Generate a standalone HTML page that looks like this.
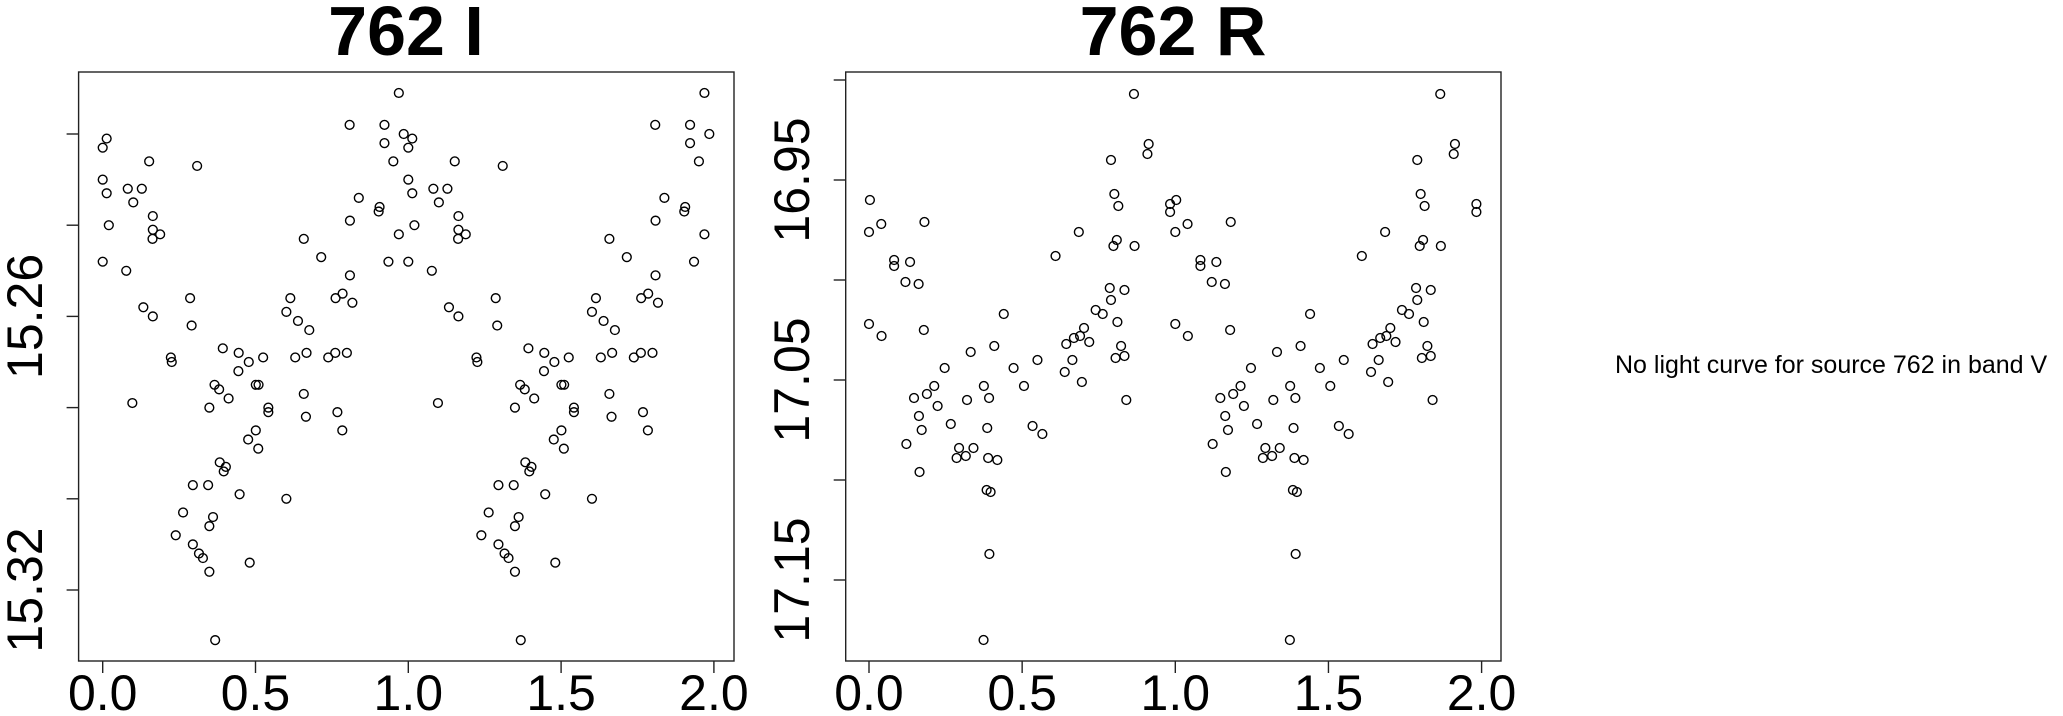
<!DOCTYPE html>
<html><head><meta charset="utf-8"><style>
html,body{margin:0;padding:0;background:#fff;width:2063px;height:716px;overflow:hidden}
svg{display:block;font-family:"Liberation Sans",Arial,sans-serif}
</style></head><body>
<svg id="chart" width="2063" height="716" viewBox="0 0 2063 716" xmlns="http://www.w3.org/2000/svg">
<text x="406" y="55" font-size="70" font-weight="bold" text-anchor="middle">762 I</text>
<text x="1173" y="55" font-size="70" font-weight="bold" text-anchor="middle">762 R</text>
<rect x="78.6" y="72" width="655.4" height="589" fill="none" stroke="#222" stroke-width="1.4"/>
<rect x="845.7" y="72" width="655.3" height="589" fill="none" stroke="#222" stroke-width="1.4"/>
<text x="1615" y="373" font-size="25">No light curve for source 762 in band V</text>
<g id="gI"></g>
<g id="gR"></g>
</svg>
<script>
const iPhase=[0.969,0.808,0.922,0.985,0.013,0.922,0.000,0.152,0.309,0.951,0.000,0.013,0.082,0.128,0.100,0.838,0.906,0.903,0.164,0.020,0.809,0.164,0.188,0.163,0.969,0.658,0.000,0.935,0.077,0.715,0.809,0.286,0.614,0.785,0.762,0.817,0.133,0.164,0.291,0.601,0.639,0.676,0.393,0.445,0.478,0.525,0.630,0.667,0.738,0.761,0.799,0.223,0.226,0.444,0.366,0.381,0.412,0.501,0.510,0.097,0.349,0.542,0.542,0.658,0.665,0.768,0.784,0.501,0.476,0.509,0.383,0.403,0.396,0.295,0.345,0.448,0.601,0.263,0.361,0.349,0.239,0.295,0.315,0.328,0.481,0.349,0.368];
const iMag=[15.211,15.218,15.218,15.220,15.221,15.222,15.223,15.226,15.227,15.226,15.230,15.233,15.232,15.232,15.235,15.234,15.236,15.237,15.238,15.240,15.239,15.241,15.242,15.243,15.242,15.243,15.248,15.248,15.250,15.247,15.251,15.256,15.256,15.255,15.256,15.257,15.258,15.260,15.262,15.259,15.261,15.263,15.267,15.268,15.270,15.269,15.269,15.268,15.269,15.268,15.268,15.269,15.270,15.272,15.275,15.276,15.278,15.275,15.275,15.279,15.280,15.280,15.281,15.277,15.282,15.281,15.285,15.285,15.287,15.289,15.292,15.293,15.294,15.297,15.297,15.299,15.300,15.303,15.304,15.306,15.308,15.310,15.312,15.313,15.314,15.316,15.331];
const rPhase=[0.865,0.913,0.909,0.790,0.003,0.801,0.814,0.983,0.983,0.040,0.000,0.181,0.685,0.809,0.798,0.867,0.609,0.082,0.082,0.134,0.119,0.162,0.786,0.834,0.790,0.740,0.763,0.440,0.811,0.000,0.041,0.179,0.702,0.689,0.669,0.644,0.719,0.823,0.805,0.834,0.409,0.332,0.550,0.664,0.247,0.472,0.639,0.695,0.213,0.375,0.506,0.189,0.147,0.320,0.392,0.840,0.224,0.163,0.267,0.386,0.534,0.566,0.172,0.122,0.294,0.341,0.286,0.316,0.389,0.419,0.165,0.384,0.397,0.393,0.374];
const rMag=[16.907,16.932,16.937,16.940,16.960,16.957,16.963,16.962,16.966,16.972,16.976,16.971,16.976,16.980,16.983,16.983,16.988,16.990,16.993,16.991,17.001,17.002,17.004,17.005,17.010,17.015,17.017,17.017,17.021,17.022,17.028,17.025,17.024,17.028,17.029,17.032,17.031,17.033,17.039,17.038,17.033,17.036,17.040,17.040,17.044,17.044,17.046,17.051,17.053,17.053,17.053,17.057,17.059,17.060,17.059,17.060,17.063,17.068,17.072,17.074,17.073,17.077,17.075,17.082,17.084,17.084,17.089,17.088,17.089,17.090,17.096,17.105,17.106,17.137,17.180];
const xTicks=[0,0.5,1,1.5,2];
const xTickLabels=["0.0","0.5","1.0","1.5","2.0"];
const iYTicks=[15.22,15.24,15.26,15.28,15.30,15.32];
const iYLabels=["","","15.26","","","15.32"];
const rYTicks=[16.90,16.95,17.00,17.05,17.10,17.15];
const rYLabels=["","16.95","","17.05","","17.15"];

const NS="http://www.w3.org/2000/svg";
function xI(p){return 102.7+305.6*p;}
function yI(m){return 590+(m-15.32)*4560;}
function xR(p){return 869+306.3*p;}
function yR(m){return 180+(m-16.95)*2000;}
function mk(tag,attrs,parent){const e=document.createElementNS(NS,tag);for(const k in attrs)e.setAttribute(k,attrs[k]);parent.appendChild(e);return e;}

function panel(g,xf,yf,ph,mg,yt,yl,boxLeft,labelX,pfx){
  const bottom=661;
  xTicks.forEach((t,i)=>{
    const l=mk('line',{x1:xf(t),x2:xf(t),y1:bottom,y2:bottom+12,stroke:'#222','stroke-width':1.4},g);
    
    
    const tx=mk('text',{x:xf(t),y:710,'font-size':50,'text-anchor':'middle'},g);
    tx.textContent=xTickLabels[i];
    
    
  });
  yt.forEach((t,i)=>{
    const y=yf(t);
    const l=mk('line',{x1:boxLeft-12,x2:boxLeft,y1:y,y2:y,stroke:'#222','stroke-width':1.4},g);
    
    
    if(yl[i]){
      const tx=mk('text',{x:0,y:0,'font-size':50,'text-anchor':'middle',transform:'translate('+labelX+','+y+') rotate(-90)'},g);
      tx.textContent=yl[i];
      
      
    }
  });
  for(let k=0;k<2;k++){
    ph.forEach((p,i)=>{
      const c=mk('circle',{cx:xf(p+k),cy:yf(mg[i]),r:4.4,fill:'none',stroke:'#000','stroke-width':1.4},g);
      
      
    });
  }
}
panel(document.getElementById('gI'),xI,yI,iPhase,iMag,iYTicks,iYLabels,78.6,42,'i-band');
panel(document.getElementById('gR'),xR,yR,rPhase,rMag,rYTicks,rYLabels,845.7,809,'r-band');
</script>
</body></html>
